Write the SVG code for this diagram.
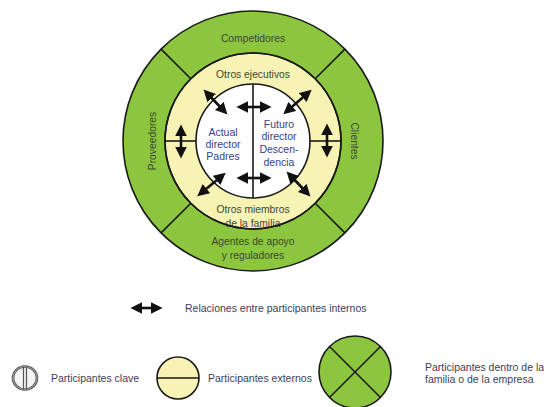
<svg xmlns="http://www.w3.org/2000/svg" width="544" height="407" viewBox="0 0 544 407">
  <defs>
    <style>
      .ring-out { fill: #8cc63f; stroke: #1a1a1a; stroke-width: 1.6; }
      .ring-mid { fill: #f7f3b4; stroke: #1a1a1a; stroke-width: 1.6; }
      .ring-in { fill: #ffffff; stroke: #1a1a1a; stroke-width: 1.6; }
      .div { stroke: #1a1a1a; stroke-width: 1.6; fill: none; }
      .lbl { font-family: "Liberation Sans", Arial, sans-serif; font-size: 10.3px; fill: #3e4630; text-anchor: middle; }
      .core { font-family: "Liberation Sans", Arial, sans-serif; font-size: 10.5px; fill: #3b3e88; text-anchor: middle; }
      .leg { font-family: "Liberation Sans", Arial, sans-serif; font-size: 10.5px; fill: #3c4058; }
      .rel { stroke: #111; stroke-width: 2.6; fill: none; marker-start: url(#head); marker-end: url(#head); }
    </style>
    <marker id="head" viewBox="0 0 10 10" refX="7" refY="5" markerWidth="12" markerHeight="12" markerUnits="userSpaceOnUse" orient="auto-start-reverse">
      <path d="M0,0 L10,5 L0,10 z" fill="#111"/>
    </marker>
  </defs>

  <rect width="544" height="407" fill="#ffffff"/>

  <!-- Outer ring: participants within the family or the company -->
  <g id="outer-ring">
    <circle class="ring-out" cx="253" cy="141" r="130"/>
    <line class="div" x1="161.1" y1="49.1" x2="190.8" y2="78.8"/>
    <line class="div" x1="344.9" y1="49.1" x2="315.2" y2="78.8"/>
    <line class="div" x1="161.1" y1="232.9" x2="190.8" y2="203.2"/>
    <line class="div" x1="344.9" y1="232.9" x2="315.2" y2="203.2"/>
  </g>
  <g id="competidores"><text class="lbl" x="253" y="42">Competidores</text></g>
  <g id="proveedores"><text class="lbl" transform="translate(152,141) rotate(-90)" y="3.5">Proveedores</text></g>
  <g id="clientes"><text class="lbl" transform="translate(354,141) rotate(90)" y="3.5">Clientes</text></g>
  <g id="agentes">
    <text class="lbl" x="253" y="245">Agentes de apoyo</text>
    <text class="lbl" x="253" y="259">y reguladores</text>
  </g>

  <!-- Middle ring: external participants -->
  <g id="middle-ring">
    <circle class="ring-mid" cx="253" cy="141" r="88"/>
    <line class="div" x1="165" y1="141" x2="196" y2="141"/>
    <line class="div" x1="310" y1="141" x2="341" y2="141"/>
  </g>
  <g id="otros-ejecutivos"><text class="lbl" x="253" y="78">Otros ejecutivos</text></g>
  <g id="otros-miembros">
    <text class="lbl" x="253" y="213">Otros miembros</text>
    <text class="lbl" x="253" y="227">de la familia</text>
  </g>
  <circle cx="253" cy="141" r="88" fill="none" stroke="#1a1a1a" stroke-width="1.6"/>

  <!-- Core: key participants -->
  <g id="core">
    <circle class="ring-in" cx="253" cy="141" r="57"/>
    <line class="div" x1="253" y1="84" x2="253" y2="198"/>
  </g>
  <g id="actual-director">
    <text class="core" x="223" y="136">Actual</text>
    <text class="core" x="223" y="148">director</text>
    <text class="core" x="223" y="160">Padres</text>
  </g>
  <g id="futuro-director">
    <text class="core" x="279" y="128">Futuro</text>
    <text class="core" x="279" y="140">director</text>
    <text class="core" x="279" y="153">Descen-</text>
    <text class="core" x="279" y="166">dencia</text>
  </g>

  <!-- Relations between internal participants -->
  <g id="connectors">
    <line class="rel" x1="240" y1="107" x2="268" y2="107"/>
    <line class="rel" x1="240" y1="178" x2="268" y2="178"/>
    <line class="rel" x1="206" y1="92" x2="225" y2="112"/>
    <line class="rel" x1="309" y1="92" x2="286" y2="112"/>
    <line class="rel" x1="223" y1="175" x2="200" y2="194"/>
    <line class="rel" x1="289" y1="174" x2="308" y2="194"/>
    <line class="rel" x1="181" y1="128" x2="181" y2="155"/>
    <line class="rel" x1="327" y1="127" x2="327" y2="154"/>
  </g>

  <!-- Legend -->
  <g id="legend-relaciones">
    <line class="rel" x1="134" y1="308" x2="159" y2="308"/>
    <text class="leg" x="185" y="312">Relaciones entre participantes internos</text>
  </g>
  <g id="legend-clave">
    <ellipse cx="25" cy="378" rx="12" ry="11.5" fill="#f4f4f4" stroke="#555" stroke-width="2.6"/>
    <ellipse cx="25" cy="378" rx="12" ry="11.5" fill="none" stroke="#bbb" stroke-width="0.8"/>
    <line x1="23.5" y1="366.5" x2="23.5" y2="389.5" stroke="#555" stroke-width="1.2"/>
    <line x1="26.5" y1="366.5" x2="26.5" y2="389.5" stroke="#555" stroke-width="1.2"/>
    <text class="leg" x="51" y="382">Participantes clave</text>
  </g>
  <g id="legend-externos">
    <circle class="ring-mid" cx="178" cy="378" r="21"/>
    <line class="div" x1="157" y1="378" x2="199" y2="378"/>
    <text class="leg" x="208" y="382">Participantes externos</text>
  </g>
  <g id="legend-dentro">
    <circle class="ring-out" cx="355" cy="372" r="36"/>
    <line class="div" x1="329.5" y1="346.5" x2="380.5" y2="397.5"/>
    <line class="div" x1="380.5" y1="346.5" x2="329.5" y2="397.5"/>
    <text class="leg" x="425" y="371">Participantes dentro de la</text>
    <text class="leg" x="425" y="383">familia o de la empresa</text>
  </g>
</svg>
